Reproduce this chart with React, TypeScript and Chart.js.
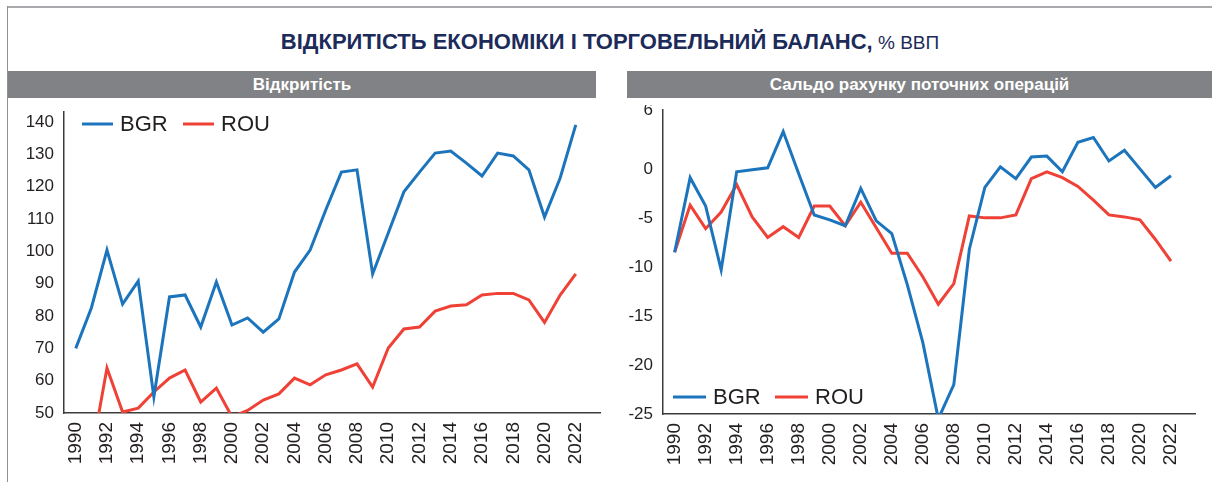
import React, { useEffect, useRef } from "react";
import { Chart, registerables } from "chart.js";

Chart.register(...registerables);

// ---------- data ----------
const years = [
  1990, 1991, 1992, 1993, 1994, 1995, 1996, 1997, 1998, 1999, 2000, 2001, 2002,
  2003, 2004, 2005, 2006, 2007, 2008, 2009, 2010, 2011, 2012, 2013, 2014, 2015,
  2016, 2017, 2018, 2019, 2020, 2021, 2022,
];
const tickYears = [
  1990, 1992, 1994, 1996, 1998, 2000, 2002, 2004, 2006, 2008, 2010, 2012, 2014,
  2016, 2018, 2020, 2022,
];
const seriesNames = ["BGR", "ROU"];

// Openness, % of GDP
const openBGR = [
  70, 82.5, 100.4, 83.7, 90.8, 55, 85.9, 86.5, 76.6, 90.5, 77.2, 79.4, 75, 79.1,
  93.6, 100.4, 112.8, 124.5, 125.2, 93, 105.7, 118.4, 124.5, 130.4, 131, 127.3,
  123.3, 130.4, 129.5, 125.2, 110.6, 122.7, 139.1,
];
const openROU = [
  43, 37, 63.9, 50.3, 51.5, 56.5, 60.8, 63.3, 53.4, 57.7, 48.8, 50.8, 54, 55.9,
  60.8, 58.7, 61.8, 63.3, 65.2, 58, 70.1, 76, 76.6, 81.5, 83.1, 83.5, 86.5, 87,
  87, 85, 78, 86.5, 93,
];
// Current account balance, % of GDP
const caBGR = [
  -8.5, -0.9, -3.8, -10.3, -0.3, -0.1, 0.1, 3.8, -0.5, -4.7, -5.2, -5.8, -2.0,
  -5.3, -6.6, -11.8, -17.7, -25.5, -22.0, -8.2, -1.9, 0.2, -1.0, 1.2, 1.3, -0.3,
  2.7, 3.2, 0.8, 1.9, 0.0, -1.9, -0.7,
];
const caROU = [
  -8.5, -3.7, -6.1, -4.4, -1.6, -4.9, -7.0, -5.9, -7.0, -3.8, -3.8, -5.8, -3.4,
  -6.0, -8.6, -8.6, -11.0, -13.8, -11.7, -4.8, -5.0, -5.0, -4.7, -1.0, -0.3,
  -0.9, -1.8, -3.2, -4.7, -4.9, -5.2, -7.2, -9.4,
];

const openTicks = [50, 60, 70, 80, 90, 100, 110, 120, 130, 140];
const caTicks = [-25, -20, -15, -10, -5, 0, 6];

const titleMain = "ВІДКРИТІСТЬ ЕКОНОМІКИ І ТОРГОВЕЛЬНИЙ БАЛАНС,";
const titleUnit = "% ВВП";
const panelTitles = ["Відкритість", "Сальдо рахунку поточних операцій"];

// ---------- style ----------
const BLUE = "#1c75bc";
const RED = "#ef4136";
const TEXT = "#231f20";
const AXIS = "#3c3c3c";

const inlineLegend = {
  id: "inlineLegend",
  afterDraw(chart: any, _args: any, opts: any) {
    const { ctx, chartArea } = chart;
    ctx.save();
    ctx.font = opts.font;
    ctx.textBaseline = "middle";
    ctx.textAlign = "left";
    chart.data.datasets.forEach((ds: any, i: number) => {
      const x0 = chartArea.left + opts.offsetX + i * opts.itemSpacing;
      const y =
        opts.anchor === "top"
          ? chartArea.top + opts.offsetY
          : chartArea.bottom - opts.offsetY;
      ctx.strokeStyle = ds.borderColor;
      ctx.lineWidth = 3;
      ctx.beginPath();
      ctx.moveTo(x0, y);
      ctx.lineTo(x0 + opts.lineLength, y);
      ctx.stroke();
      ctx.fillStyle = opts.color;
      ctx.fillText(ds.label, x0 + opts.lineLength + opts.gap, y + 1);
    });
    ctx.restore();
  },
};

function makeConfig(
  a: number[],
  b: number[],
  yMin: number,
  yMax: number,
  yTicks: number[],
  yWidth: number,
  xHeight: number,
  padding: any,
  legend: any
): any {
  const toPts = (arr: number[]) => years.map((y, i) => ({ x: y, y: arr[i] }));
  return {
    type: "line",
    data: {
      datasets: [
        {
          label: seriesNames[0],
          data: toPts(a),
          borderColor: BLUE,
          borderWidth: 3,
          pointRadius: 0,
          tension: 0,
        },
        {
          label: seriesNames[1],
          data: toPts(b),
          borderColor: RED,
          borderWidth: 3,
          pointRadius: 0,
          tension: 0,
        },
      ],
    },
    plugins: [inlineLegend],
    options: {
      animation: false,
      responsive: false,
      maintainAspectRatio: false,
      layout: { padding },
      plugins: {
        legend: { display: false },
        tooltip: { enabled: false },
        inlineLegend: legend,
      },
      scales: {
        x: {
          type: "linear",
          min: 1989.25,
          max: 2023.55,
          afterBuildTicks(scale: any) {
            scale.ticks = tickYears.map((v) => ({ value: v }));
          },
          afterFit(scale: any) {
            scale.height = xHeight;
            scale.paddingLeft = 0;
            scale.paddingRight = 0;
          },
          grid: { display: false, drawTicks: false },
          border: { display: true, color: AXIS, width: 1.5 },
          ticks: {
            autoSkip: false,
            minRotation: 90,
            maxRotation: 90,
            padding: 9,
            color: TEXT,
            font: { family: "'Liberation Sans', Arial, sans-serif", size: 19 },
            callback: (v: any) => String(v),
          },
        },
        y: {
          min: yMin,
          max: yMax,
          afterBuildTicks(scale: any) {
            scale.ticks = yTicks.map((v) => ({ value: v }));
          },
          afterFit(scale: any) {
            scale.width = yWidth;
            scale.paddingTop = 0;
            scale.paddingBottom = 0;
          },
          grid: { display: false, drawTicks: false },
          border: { display: true, color: AXIS, width: 1.5 },
          ticks: {
            padding: 10,
            color: TEXT,
            font: { family: "'Liberation Sans', Arial, sans-serif", size: 17 },
            callback: (v: any) => String(v),
          },
        },
      },
    },
  };
}

function ChartCanvas(props: {
  left: number;
  top: number;
  width: number;
  height: number;
  config: () => any;
}) {
  const ref = useRef<HTMLCanvasElement | null>(null);
  useEffect(() => {
    if (!ref.current) return;
    const chart = new Chart(ref.current, props.config());
    return () => chart.destroy();
  }, []);
  return (
    <canvas
      ref={ref}
      width={props.width}
      height={props.height}
      style={{
        position: "absolute",
        left: props.left,
        top: props.top,
        width: props.width,
        height: props.height,
      }}
    />
  );
}

const legendFont = "22px 'Liberation Sans Narrow', 'Arial Narrow', sans-serif";

export default function App() {
  const barStyle: React.CSSProperties = {
    position: "absolute",
    top: 71,
    height: 27,
    background: "#808285",
    color: "#ffffff",
    fontFamily: "'Liberation Sans', Arial, sans-serif",
    fontWeight: 700,
    fontSize: 17,
    lineHeight: "27px",
    textAlign: "center",
  };
  return (
    <div
      style={{
        position: "absolute",
        left: 0,
        top: 0,
        width: 1212,
        height: 482,
        background: "#ffffff",
        overflow: "hidden",
      }}
    >
      {/* frame */}
      <div
        style={{
          position: "absolute",
          left: 7,
          top: 6,
          width: 1205,
          height: 2,
          background: "#a7a9ac",
        }}
      />
      <div
        style={{
          position: "absolute",
          left: 7,
          top: 6,
          width: 1,
          height: 476,
          background: "#8f9194",
        }}
      />
      {/* title */}
      <div
        style={{
          position: "absolute",
          left: 8,
          top: 29,
          width: 1204,
          textAlign: "center",
          fontFamily: "'Liberation Sans', Arial, sans-serif",
          color: "#1c2b5a",
          whiteSpace: "nowrap",
          lineHeight: "26px",
        }}
      >
        <span style={{ fontWeight: 700, fontSize: 22 }}>{titleMain}</span>
        <span style={{ fontWeight: 400, fontSize: 19 }}> {titleUnit}</span>
      </div>
      {/* panel headers */}
      <div style={{ ...barStyle, left: 8, width: 588 }}>{panelTitles[0]}</div>
      <div style={{ ...barStyle, left: 627, width: 585 }}>{panelTitles[1]}</div>

      <ChartCanvas
        left={8}
        top={105}
        width={600}
        height={375}
        config={() =>
          makeConfig(
            openBGR,
            openROU,
            50,
            143.1,
            openTicks,
            56,
            67,
            { top: 7, right: 8, left: 0, bottom: 0 },
            {
              anchor: "top",
              offsetX: 18,
              offsetY: 12,
              lineLength: 31,
              gap: 7,
              itemSpacing: 101,
              font: legendFont,
              color: TEXT,
            }
          )
        }
      />
      <ChartCanvas
        left={610}
        top={105}
        width={602}
        height={375}
        config={() =>
          makeConfig(
            caBGR,
            caROU,
            -25,
            6,
            caTicks,
            53,
            66,
            { top: 5, right: 17, left: 0, bottom: 0 },
            {
              anchor: "bottom",
              offsetX: 10,
              offsetY: 17,
              lineLength: 33,
              gap: 7,
              itemSpacing: 102,
              font: legendFont,
              color: TEXT,
            }
          )
        }
      />
    </div>
  );
}
